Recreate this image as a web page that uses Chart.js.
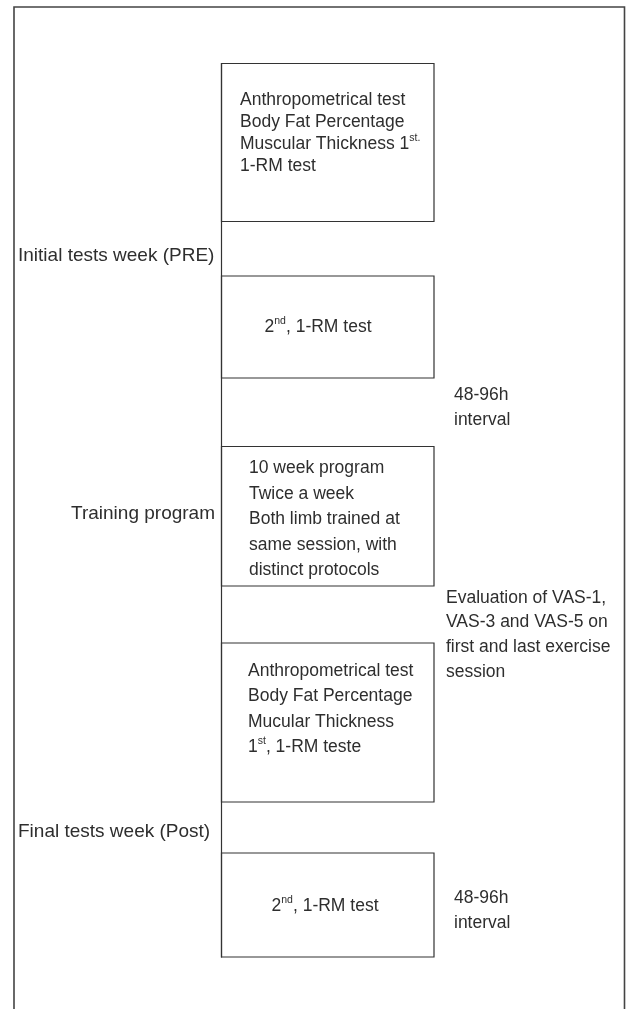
<!DOCTYPE html>
<html>
<head>
<meta charset="utf-8">
<script src="https://cdn.jsdelivr.net/npm/chart.js@4.4.1/dist/chart.umd.min.js"></script>
<style>
html,body{margin:0;padding:0;background:#fff;}
#wrap{width:626px;height:1009px;position:relative;}
</style>
</head>
<body>
<div id="wrap"><canvas id="c" width="626" height="1009"></canvas></div>
<script>
// ---- diagram data (axis units = page pixels) ----
const stepNames   = ['PRE tests A', 'PRE tests B', 'Training', 'POST tests A', 'POST tests B'];
const stepLeft    = [221.5, 221.5, 221.5, 221.5, 221.5];
const stepRight   = [434, 434, 434, 434, 434];
const stepTop     = [63.5, 276, 446.5, 643, 853];
const stepBottom  = [221.5, 378, 586, 802, 957];

const stepLines = [
  ['Anthropometrical test', 'Body Fat Percentage', 'Muscular Thickness 1{st.}', '1-RM test'],
  ['2{nd}, 1-RM test'],
  ['10 week program', 'Twice a week', 'Both limb trained at', 'same session, with', 'distinct protocols'],
  ['Anthropometrical test', 'Body Fat Percentage', 'Mucular Thickness', '1{st}, 1-RM teste'],
  ['2{nd}, 1-RM test']
];
const stepLineY = [
  [100, 122, 144, 166],
  [327],
  [468, 494, 519, 545, 570],
  [671, 696, 722, 747],
  [906]
];
const stepTextX    = [240, 318, 249, 248, 325];
const stepTextAlign = ['left', 'center', 'left', 'left', 'center'];

const phaseLabels = ['Initial tests week (PRE)', 'Training program', 'Final tests week (Post)'];
const phaseX      = [18, 215, 18];
const phaseY      = [256, 514, 832];
const phaseAlign  = ['left', 'right', 'left'];

const noteLines = [
  ['48-96h', 'interval'],
  ['Evaluation of VAS-1,', 'VAS-3 and VAS-5 on', 'first and last exercise', 'session'],
  ['48-96h', 'interval']
];
const noteX = [454, 446, 454];
const noteY = [[395, 420], [598, 622, 647, 672], [898, 923]];

const frameX = [14, 14, 624.5, 624.5];
const frameY = [1009, 7, 7, 1009];
const spineX = [221.5, 221.5];
const spineY = [63.5, 957];

// ---- build datasets ----
const datasets = [];
datasets.push({
  label: 'frame',
  data: frameX.map((x, i) => ({x: x, y: frameY[i]})),
  showLine: true, borderColor: '#444', borderWidth: 1.6, pointRadius: 0, fill: false
});
datasets.push({
  label: 'spine',
  data: spineX.map((x, i) => ({x: x, y: spineY[i]})),
  showLine: true, borderColor: '#333', borderWidth: 1.2, pointRadius: 0, fill: false
});
stepNames.forEach((n, i) => {
  datasets.push({
    label: n,
    data: [
      {x: stepLeft[i], y: stepTop[i]},
      {x: stepRight[i], y: stepTop[i]},
      {x: stepRight[i], y: stepBottom[i]},
      {x: stepLeft[i], y: stepBottom[i]},
      {x: stepLeft[i], y: stepTop[i]}
    ],
    showLine: true, borderColor: '#333', borderWidth: 1.2, pointRadius: 0, fill: false
  });
});

const FONT = '"Liberation Sans", Arial, sans-serif';
const FS = 17.5;
const FS_PHASE = 19;
const SUP = 10.5;
const COLOR = '#2e2e2e';

function parts(str) {
  const out = [];
  const re = /\{([^}]*)\}/g;
  let last = 0, m;
  while ((m = re.exec(str))) {
    if (m.index > last) out.push({t: str.slice(last, m.index), sup: false});
    out.push({t: m[1], sup: true});
    last = re.lastIndex;
  }
  if (last < str.length) out.push({t: str.slice(last), sup: false});
  return out;
}
function drawRich(ctx, str, x, y, align, size) {
  const ps = parts(str);
  let w = 0;
  ps.forEach(p => {
    ctx.font = (p.sup ? SUP : size) + 'px ' + FONT;
    p.w = ctx.measureText(p.t).width;
    w += p.w;
  });
  let cx = x;
  if (align === 'center') cx = x - w / 2;
  else if (align === 'right') cx = x - w;
  ps.forEach(p => {
    ctx.font = (p.sup ? SUP : size) + 'px ' + FONT;
    ctx.fillText(p.t, cx, p.sup ? y - 6 : y);
    cx += p.w;
  });
}

const textPlugin = {
  id: 'flowText',
  afterDatasetsDraw(chart) {
    const ctx = chart.ctx;
    const sx = chart.scales.x, sy = chart.scales.y;
    ctx.save();
    ctx.fillStyle = COLOR;
    ctx.textBaseline = 'middle';
    ctx.textAlign = 'left';
    stepLines.forEach((lines, i) => {
      lines.forEach((s, j) => {
        drawRich(ctx, s, sx.getPixelForValue(stepTextX[i]), sy.getPixelForValue(stepLineY[i][j]), stepTextAlign[i], FS);
      });
    });
    phaseLabels.forEach((s, i) => {
      drawRich(ctx, s, sx.getPixelForValue(phaseX[i]), sy.getPixelForValue(phaseY[i]), phaseAlign[i], FS_PHASE);
    });
    noteLines.forEach((lines, i) => {
      lines.forEach((s, j) => {
        drawRich(ctx, s, sx.getPixelForValue(noteX[i]), sy.getPixelForValue(noteY[i][j]), 'left', FS);
      });
    });
    ctx.restore();
  }
};

new Chart(document.getElementById('c'), {
  type: 'scatter',
  data: {datasets: datasets},
  options: {
    responsive: false,
    animation: false,
    events: [],
    layout: {padding: 0},
    plugins: {legend: {display: false}, tooltip: {enabled: false}, title: {display: false}},
    scales: {
      x: {type: 'linear', min: 0, max: 626, display: false},
      y: {type: 'linear', min: 0, max: 1009, reverse: true, display: false}
    },
    elements: {line: {tension: 0, borderCapStyle: 'square', borderJoinStyle: 'miter'}}
  },
  plugins: [textPlugin]
});
</script>
</body>
</html>
